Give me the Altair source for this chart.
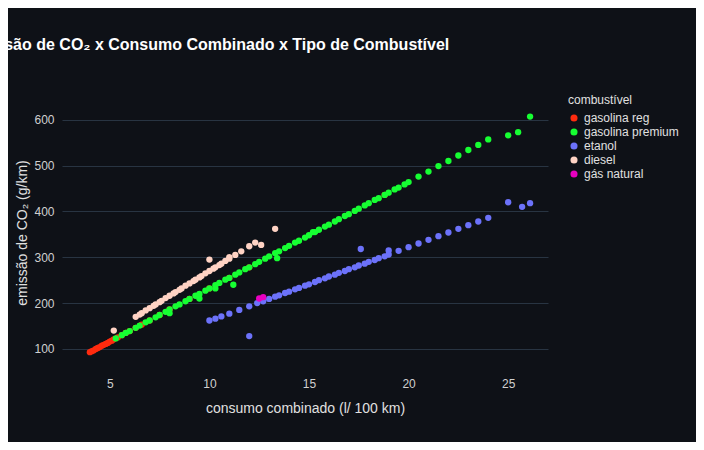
import altair as alt
import pandas as pd

reg_x = [4.0,4.1,4.2,4.3,4.4,4.5,4.6,4.7,4.8,4.9,5.0,5.1,5.2,5.4,5.6,5.8,6.0,6.3,6.6,7.0,7.5,8.0,9.0,10.0,11.0,12.0,18.8]
reg_y = [93,95,97,100,102,104,107,109,111,113,116,118,121,125,130,135,139,146,153,162,174,186,209,232,255,278,436]
pre_x = [5.3,5.6,5.8,6.0,6.3,6.5,6.8,7.0,7.3,7.5,7.8,8.0,8.3,8.5,8.8,9.0,9.3,9.5,9.8,10.0,10.3,10.5,10.8,11.0,11.3,11.5,11.8,12.0,12.3,12.5,12.8,13.0,13.3,13.5,13.8,14.0,14.3,14.5,14.8,15.0,15.3,15.5,15.8,16.0,16.3,16.5,16.8,17.0,17.3,17.5,17.8,18.0,18.3,18.5,18.8,19.0,19.3,19.5,19.8,20.0,20.5,21.0,21.5,22.0,22.5,23.0,23.5,24.0,25.0,25.5,26.1,9.5,13.4,11.2,15.2,8.0,10.3]
pre_y = [123,130,135,139,146,151,158,162,169,174,181,186,193,197,204,209,216,220,227,232,239,244,251,255,262,267,274,278,285,290,297,302,309,313,320,325,332,336,343,348,355,360,367,371,378,383,390,394,401,406,413,418,425,429,436,441,448,452,459,464,476,487,499,510,522,534,545,557,566,573,607,210,298,240,355,178,232]
eta_x = [10.0,10.3,10.6,11.0,11.5,12.0,12.4,12.7,13.0,13.3,13.5,13.8,14.0,14.3,14.5,14.8,15.0,15.3,15.5,15.8,16.0,16.3,16.5,16.8,17.0,17.3,17.5,17.8,18.0,18.3,18.5,18.8,19.0,19.5,20.0,20.5,21.0,21.5,22.0,22.5,23.0,23.5,24.0,25.0,25.7,26.1,12.0,17.6,19.0]
eta_y = [162,166,171,177,185,193,200,204,209,214,217,222,225,230,233,238,241,246,250,254,258,262,266,270,274,278,282,286,290,294,298,302,306,314,322,330,338,346,354,362,370,378,386,420,410,418,128,318,315]
die_x = [5.2,6.3,6.5,6.6,6.8,7.0,7.2,7.3,7.5,7.6,7.8,8.0,8.2,8.3,8.5,8.6,8.8,9.0,9.2,9.3,9.5,9.6,9.8,10.0,10.2,10.3,10.5,10.6,10.8,11.0,11.3,11.6,12.0,12.3,13.3,10.0,11.0,12.6]
die_y = [140,170,175,178,184,189,194,197,202,205,211,216,221,224,229,232,238,243,248,251,256,259,265,270,275,278,283,286,292,297,305,313,324,332,362,295,300,327]
gas_x = [12.5,12.7]
gas_y = [210,213]

cats = ["gasolina reg", "gasolina premium", "etanol", "diesel", "gás natural"]
colors = ["#FF2B0F", "#16FF32", "#6C72FA", "#FFD3C4", "#E800C0"]

rows = []
for c, xs, ys in zip(cats, [reg_x, pre_x, eta_x, die_x, gas_x], [reg_y, pre_y, eta_y, die_y, gas_y]):
    for x, y in zip(xs, ys):
        rows.append({"x": x, "y": y, "combustível": c})
df = pd.DataFrame(rows)
df["o"] = range(len(df))

chart = alt.Chart(df).mark_circle(size=40, opacity=1).encode(
    x=alt.X("x:Q", title="consumo combinado (l/ 100 km)",
            scale=alt.Scale(domain=[2.6, 27], nice=False, zero=False),
            axis=alt.Axis(values=[5, 10, 15, 20, 25], grid=False, titlePadding=12)),
    y=alt.Y("y:Q", title="emissão de CO₂ (g/km)",
            scale=alt.Scale(domain=[54, 654], nice=False, zero=False),
            axis=alt.Axis(values=[100, 200, 300, 400, 500, 600])),
    color=alt.Color("combustível:N", scale=alt.Scale(domain=cats, range=colors),
                    sort=cats,
                    legend=alt.Legend(title="combustível", symbolType="circle", symbolSize=50)),
    order="o:Q",
).properties(
    width=486, height=275,
    autosize=alt.AutoSizeParams(type="none"),
    background="#0E1117",
    title=alt.Title("Emissão de CO₂ x Consumo Combinado x Tipo de Combustível",
                    anchor="start", fontSize=16, fontWeight="bold", color="white",
                    font="Arial", offset=42, dx=-50),
    padding={"left": 54, "top": 87, "right": 148, "bottom": 72},
).configure_view(stroke=None).configure_axis(
    domain=False, ticks=False, gridColor="#283442", labelColor="#d0d0d0",
    titleColor="#e0e0e0", labelFont="Arial", titleFont="Arial",
    labelFontSize=12, titleFontSize=14, titleFontWeight="normal", labelPadding=8
).configure_legend(
    labelColor="#e0e0e0", titleColor="#e0e0e0", labelFont="Arial", titleFont="Arial",
    labelFontSize=12, titleFontSize=12, titleFontWeight="normal", offset=20
)

chart.save("out.html", embed_options={"renderer": "svg", "actions": False})
